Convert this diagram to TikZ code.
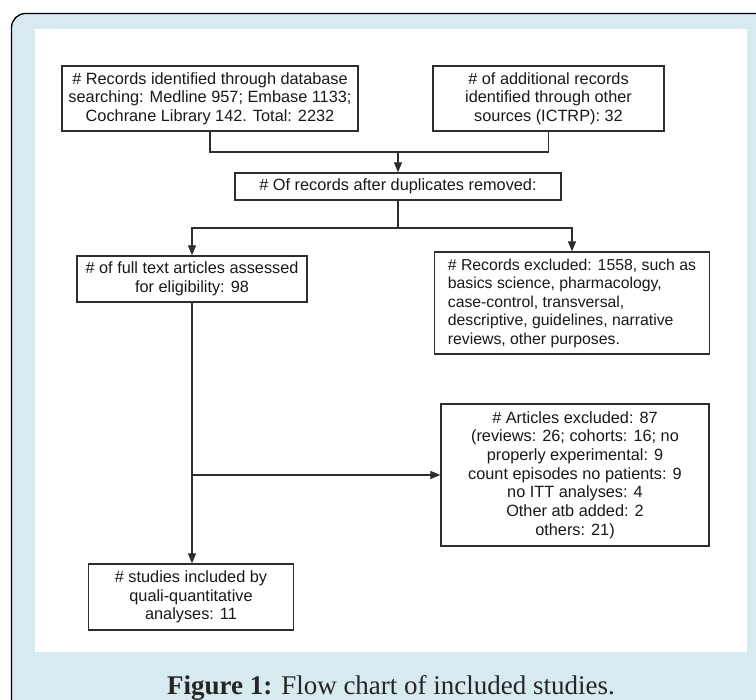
\documentclass[tikz,border=0pt]{standalone}
\usepackage{fontspec}
\setmainfont{Liberation Serif}
\setsansfont{Liberation Sans}
\usetikzlibrary{arrows.meta}
\definecolor{panelblue}{RGB}{215,234,240}
\definecolor{boxline}{RGB}{45,45,45}

\begin{document}
\begin{tikzpicture}[x=1pt,y=-1pt,
		box/.style={draw=boxline, line width=1.4pt, fill=white, inner sep=0pt, align=center,
			text=black!90, font=\sffamily\fontsize{16.3}{18.7}\selectfont},
		link/.style={draw=boxline, line width=1.3pt},
		arr/.style={link, -{Triangle[length=10pt,width=8pt]}}]

		\useasboundingbox (0,0) rectangle (756,700);
		\draw [line width=1.3pt, fill=panelblue, rounded corners=14pt] (11.5,13.5) rectangle (790,740);
		\fill [white] (35,29) rectangle (747,652);

		\node [box, minimum width=296pt, minimum height=65pt] (search) at (210,98.5)
			{\# Records identified through database\\ searching: Medline 957; Embase 1133;\\ Cochrane Library 142. Total: 2232};
		\node [box, minimum width=231pt, minimum height=65pt] (other) at (548.5,98.5)
			{\# of additional records\\ identified through other\\ sources (ICTRP): 32};
		\node [box, minimum width=326pt, minimum height=27pt] (dedup) at (398,186.5)
			{\# Of records after duplicates removed:};
		\node [box, minimum width=230pt, minimum height=46pt] (fulltext) at (192,279)
			{\# of full text articles assessed\\ for eligibility: 98};
		\node [box, align=left, inner xsep=9pt, minimum width=275pt, minimum height=102pt,
			font=\sffamily\fontsize{15.8}{18.5}\selectfont] (recexcl) at (572,303)
			{\# Records excluded: 1558, such as\\ basics science, pharmacology,\\ case-control, transversal,\\ descriptive, guidelines, narrative\\ reviews, other purposes.};
		\node [box, minimum width=268pt, minimum height=142pt] (artexcl) at (575,475)
			{\# Articles excluded: 87\\ (reviews: 26; cohorts: 16; no\\ properly experimental: 9\\ count episodes no patients: 9\\ no ITT analyses: 4\\ Other atb added: 2\\ others: 21)};
		\node [box, minimum width=205pt, minimum height=66pt] (included) at (191,597)
			{\# studies included by\\ quali-quantitative\\ analyses: 11};

		\coordinate (join) at (398,152);
		\coordinate (split) at (398,228);
		\coordinate (branch) at (fulltext.south |- artexcl.west);

		\draw [link] (search.south) |- (join) -| (other.south);
		\draw [arr] (join) -- (dedup.north);
		\draw [link] (dedup.south) -- (split);
		\draw [arr] (split) -| (fulltext.north);
		\draw [arr] (split) -| (recexcl.north);
		\draw [arr] (fulltext.south) -- (fulltext.south |- included.north);
		\draw [arr] (branch) -- (artexcl.west);

		\node [anchor=base, text=black!85, font=\fontsize{27}{30}\selectfont] (caption) at (391,695)
			{\textbf{Figure 1:} Flow chart of included studies.};
	\end{tikzpicture}
\end{document}
